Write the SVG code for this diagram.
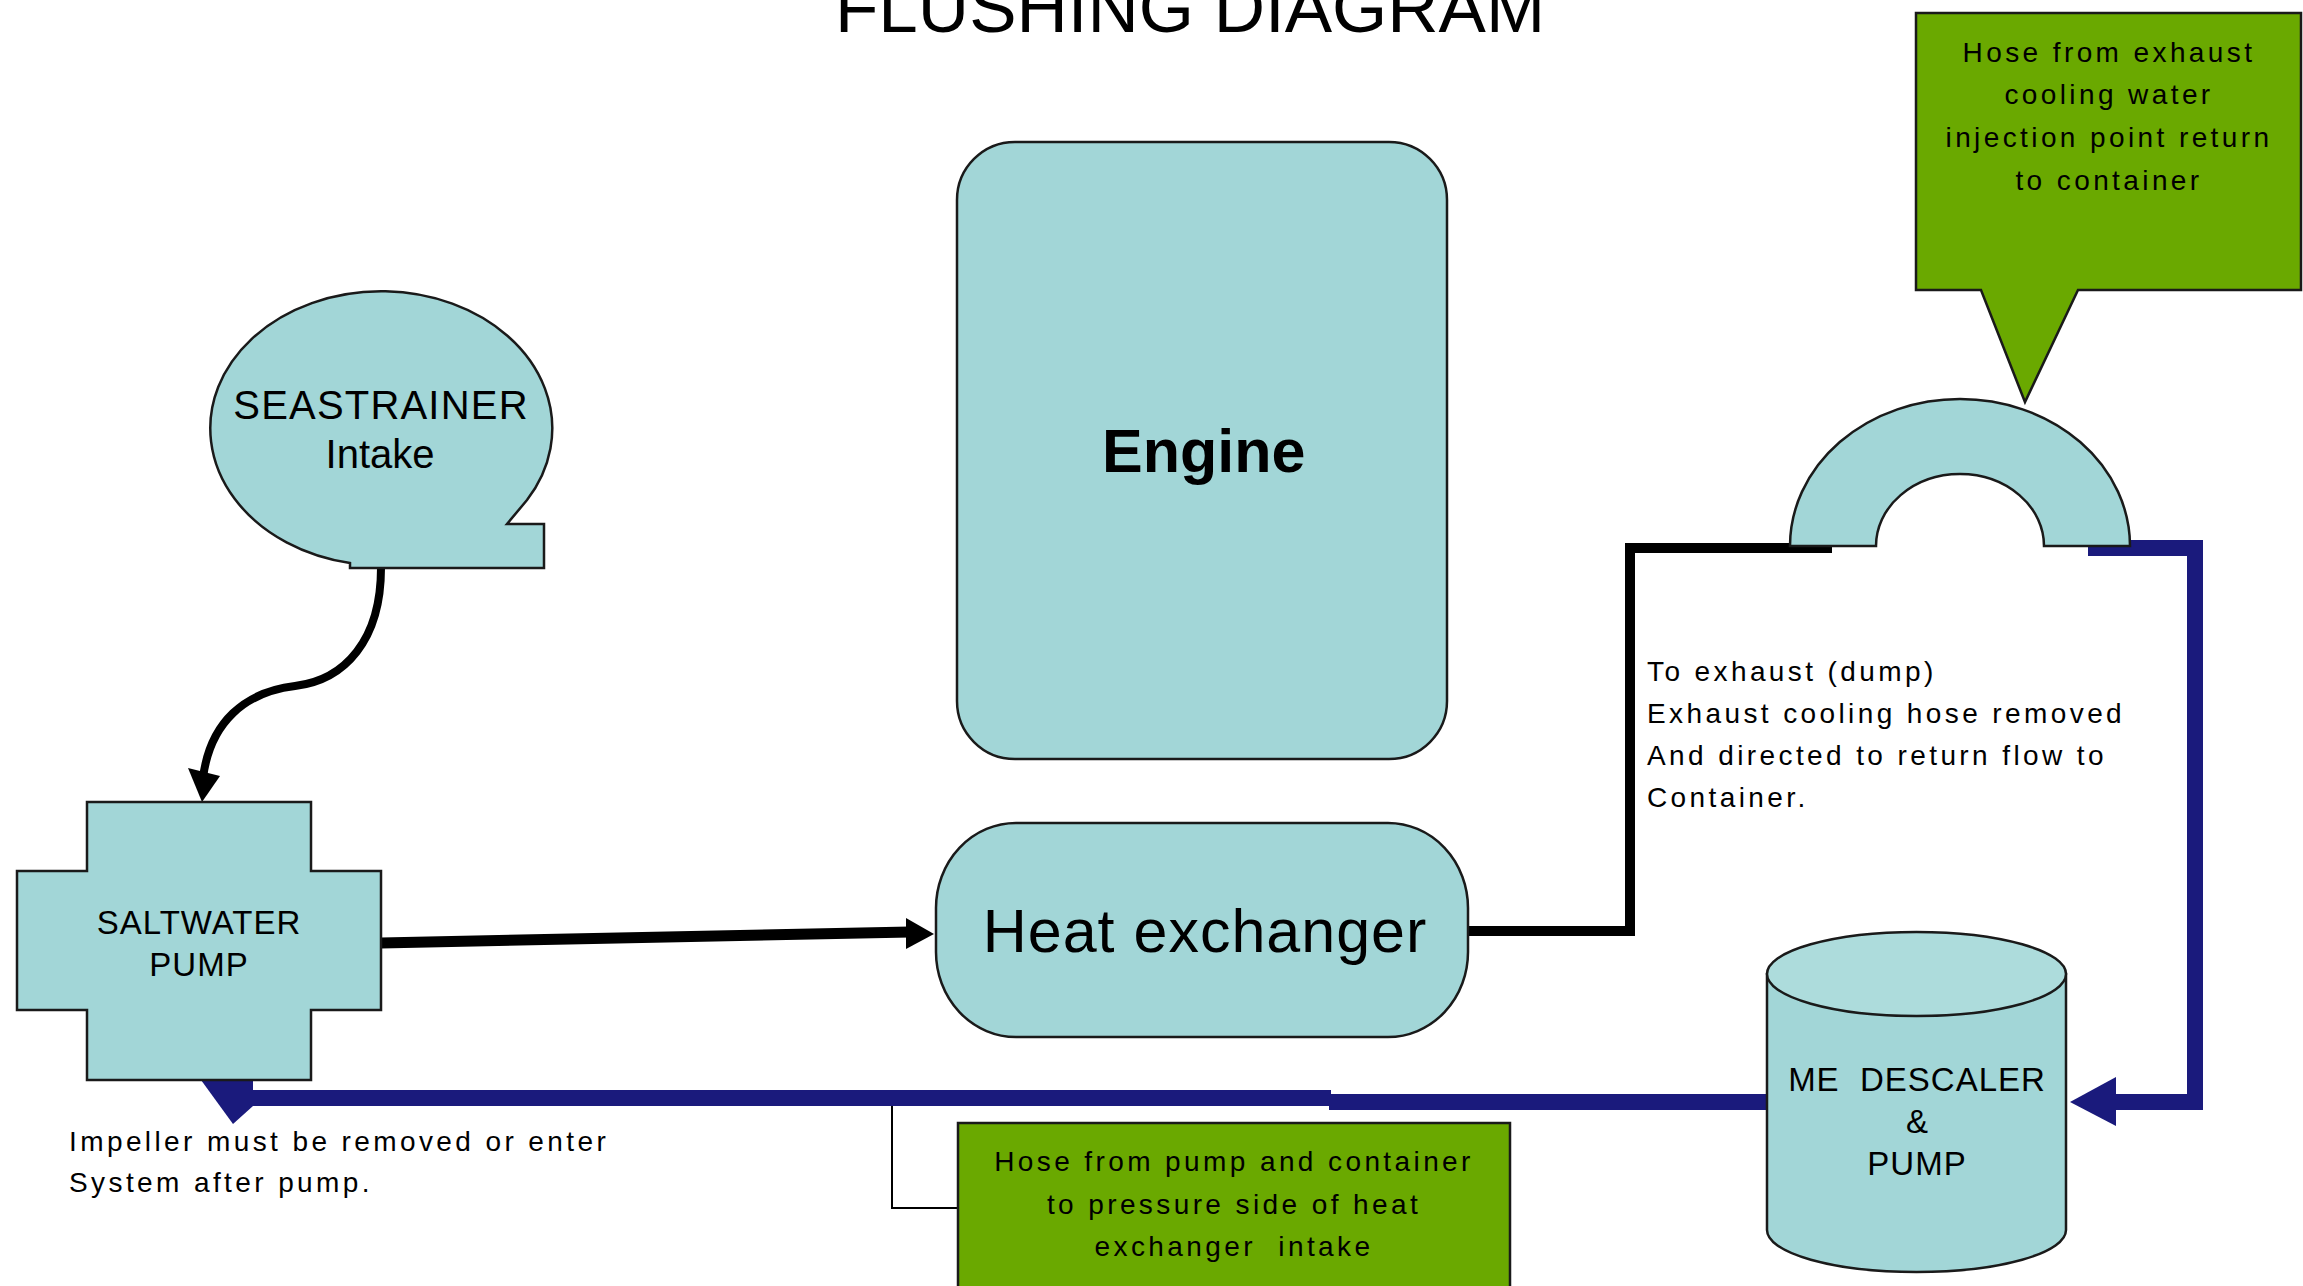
<svg xmlns="http://www.w3.org/2000/svg" width="2303" height="1286" viewBox="0 0 2303 1286">
  <style>
    .node { fill: #a2d6d7; stroke: #1a1a1a; stroke-width: 2.5; }
    .top { fill: #addcdc; stroke: #1a1a1a; stroke-width: 2.5; }
    .green { fill: #6aa900; stroke: #1a1a1a; stroke-width: 2.5; }
    .t { font-family: "Liberation Sans", Arial, sans-serif; fill: #000; }
    .small { font-size: 28px; letter-spacing: 3.4px; }
    .mid { text-anchor: middle; }
    .blk { fill: none; stroke: #000; stroke-linejoin: miter; }
    .blue { fill: none; stroke: #1a1a7c; stroke-width: 16; stroke-linejoin: miter; }
  </style>

  <rect width="2303" height="1286" fill="#ffffff"/>

  <g id="title">
    <text class="t" x="835" y="32" font-size="71">FLUSHING DIAGRAM</text>
  </g>

  <g id="connectors">
    <!-- seastrainer to pump -->
    <path class="blk" stroke-width="8" d="M381,568 C381,640 345,680 295,686 C245,692 210,722 203,778"/>
    <polygon points="188,768 220,776 202,802" fill="#000"/>
    <!-- pump to heat exchanger -->
    <path class="blk" stroke-width="11" d="M381,943 L910,932"/>
    <polygon points="906,918 934,934 906,949" fill="#000"/>
    <!-- heat exchanger to exhaust elbow -->
    <path class="blk" stroke-width="10" d="M1468,931 H1630 V548 H1832"/>
    <!-- elbow return to descaler -->
    <path class="blue" d="M2088,548 H2195 V1102 H2112"/>
    <polygon points="2070,1102 2116,1077 2116,1126" fill="#1a1a7c"/>
    <!-- descaler to pump -->
    <path class="blue" d="M1767,1102 H1329"/>
    <path class="blue" d="M1331,1098 H250"/>
    <polygon points="201,1080 253,1080 253,1106 233,1124" fill="#1a1a7c"/>
    <!-- callout leader -->
    <path class="blk" stroke-width="2" d="M892,1106 V1208 H958"/>
  </g>

  <g id="engine">
    <rect class="node" x="957" y="142" width="490" height="617" rx="58" ry="58"/>
    <text class="t" x="1102" y="472" font-size="61" font-weight="bold">Engine</text>
  </g>

  <g id="heat-exchanger">
    <rect class="node" x="936" y="823" width="532" height="214" rx="80" ry="85"/>
    <text class="t mid" x="1205" y="952" font-size="61" letter-spacing="1">Heat exchanger</text>
  </g>

  <g id="seastrainer">
    <path class="node" d="M544,568 L350,568 L350,563 A171,137 0 1 1 527,500 L507,524 L544,524 Z"/>
    <text class="t mid" x="381" y="419" font-size="40" letter-spacing="1.2">SEASTRAINER</text>
    <text class="t mid" x="380" y="468" font-size="40">Intake</text>
  </g>

  <g id="saltwater-pump">
    <path class="node" d="M87,802 H311 V871 H381 V1010 H311 V1080 H87 V1010 H17 V871 H87 Z"/>
    <text class="t mid" x="199" y="934" font-size="33" letter-spacing="1">SALTWATER</text>
    <text class="t mid" x="199" y="976" font-size="33" letter-spacing="1">PUMP</text>
  </g>

  <g id="descaler">
    <path class="node" d="M1767,974 V1230 A149.5,42 0 0 0 2066,1230 V974 Z"/>
    <ellipse class="top" cx="1916.5" cy="974" rx="149.5" ry="42"/>
    <text class="t mid" x="1917" y="1091" font-size="33" letter-spacing="1" style="white-space:pre">ME  DESCALER</text>
    <text class="t mid" x="1917" y="1133" font-size="33">&amp;</text>
    <text class="t mid" x="1917" y="1175" font-size="33" letter-spacing="1">PUMP</text>
  </g>

  <g id="exhaust-elbow">
    <path class="node" d="M1790,546 A170,147 0 0 1 2130,546 L2044,546 A84,72 0 0 0 1876,546 Z"/>
  </g>

  <g id="callout-exhaust">
    <path class="green" d="M1916,13 H2301 V290 H2078 L2025,402 L1981,290 H1916 Z"/>
    <text class="t small mid" x="2109" y="62">Hose from exhaust</text>
    <text class="t small mid" x="2109" y="104">cooling water</text>
    <text class="t small mid" x="2109" y="147">injection point return</text>
    <text class="t small mid" x="2109" y="190">to container</text>
  </g>

  <g id="callout-pump">
    <rect class="green" x="958" y="1123" width="552" height="170"/>
    <text class="t small mid" x="1234" y="1171">Hose from pump and container</text>
    <text class="t small mid" x="1234" y="1214">to pressure side of heat</text>
    <text class="t small mid" x="1234" y="1256" style="white-space:pre">exchanger  intake</text>
  </g>

  <g id="exhaust-note">
    <text class="t small" x="1647" y="681">To exhaust (dump)</text>
    <text class="t small" x="1647" y="723">Exhaust cooling hose removed</text>
    <text class="t small" x="1647" y="765">And directed to return flow to</text>
    <text class="t small" x="1647" y="807">Container.</text>
  </g>

  <g id="impeller-note">
    <text class="t small" x="69" y="1151">Impeller must be removed or enter</text>
    <text class="t small" x="69" y="1192">System after pump.</text>
  </g>
</svg>
